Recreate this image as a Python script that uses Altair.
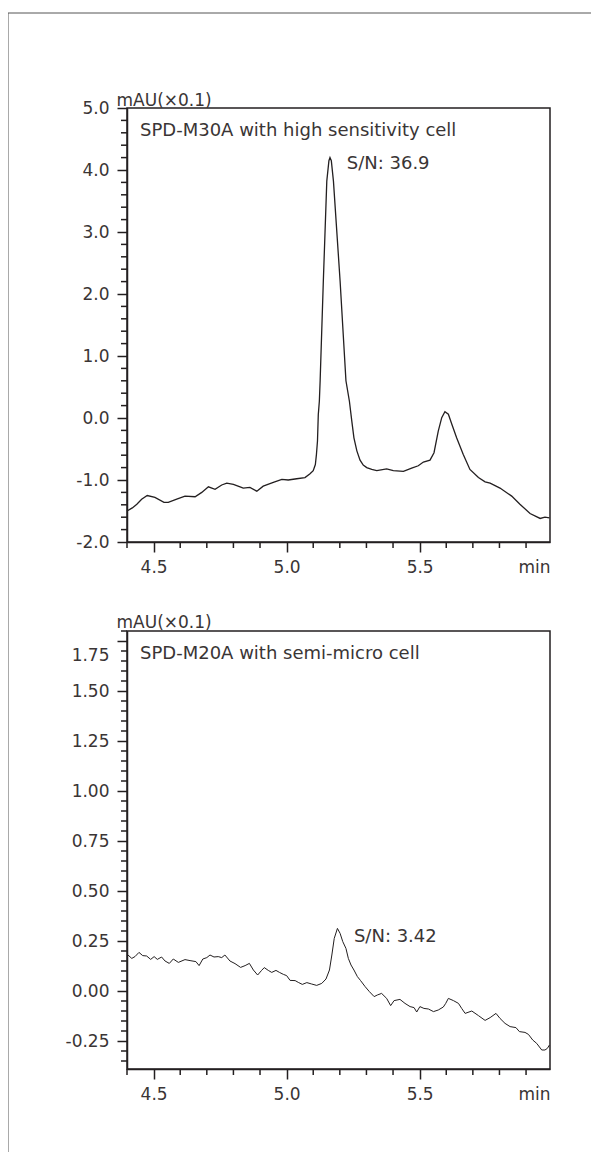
import altair as alt
import pandas as pd

# ---------------- data ----------------
top_t = [4.400, 4.420, 4.437, 4.455, 4.476, 4.505, 4.539, 4.555, 4.587, 4.618,
         4.656, 4.681, 4.706, 4.731, 4.756, 4.775, 4.800, 4.825, 4.837, 4.862,
         4.888, 4.912, 4.950, 4.982, 5.006, 5.038, 5.069, 5.088, 5.100, 5.108,
         5.112, 5.116, 5.119, 5.123, 5.126, 5.138, 5.151, 5.159, 5.163, 5.168,
         5.176, 5.201, 5.223, 5.236, 5.245, 5.253, 5.264, 5.276, 5.288, 5.301,
         5.320, 5.339, 5.376, 5.401, 5.439, 5.470, 5.495, 5.514, 5.539, 5.554,
         5.570, 5.583, 5.595, 5.608, 5.621, 5.639, 5.664, 5.689, 5.721, 5.746,
         5.765, 5.802, 5.846, 5.877, 5.915, 5.953, 5.971, 5.988]
top_v = [-1.50, -1.45, -1.39, -1.31, -1.25, -1.28, -1.36, -1.36, -1.31, -1.26,
         -1.27, -1.20, -1.11, -1.15, -1.08, -1.05, -1.07, -1.11, -1.13, -1.12,
         -1.18, -1.10, -1.04, -0.99, -1.00, -0.98, -0.96, -0.90, -0.85, -0.75,
         -0.59, -0.37, 0.05, 0.27, 0.60, 2.21, 3.82, 4.15, 4.20, 4.15,
         3.82, 2.21, 0.60, 0.27, -0.05, -0.32, -0.53, -0.68, -0.76, -0.80,
         -0.83, -0.85, -0.82, -0.85, -0.86, -0.81, -0.77, -0.71, -0.68, -0.56,
         -0.21, 0.005, 0.10, 0.06, -0.10, -0.32, -0.59, -0.83, -0.96, -1.03,
         -1.05, -1.13, -1.26, -1.39, -1.54, -1.62, -1.60, -1.61]

bot_t = [4.401, 4.418, 4.430, 4.445, 4.459, 4.474, 4.489, 4.502, 4.514, 4.530,
         4.543, 4.559, 4.574, 4.593, 4.618, 4.637, 4.659, 4.671, 4.685, 4.700,
         4.712, 4.727, 4.743, 4.756, 4.768, 4.787, 4.806, 4.827, 4.844, 4.860,
         4.875, 4.891, 4.906, 4.916, 4.931, 4.944, 4.960, 4.973, 4.988, 5.000,
         5.013, 5.032, 5.044, 5.059, 5.076, 5.094, 5.113, 5.132, 5.148, 5.161,
         5.170, 5.179, 5.191, 5.201, 5.211, 5.223, 5.232, 5.242, 5.253, 5.266,
         5.278, 5.295, 5.311, 5.329, 5.341, 5.357, 5.376, 5.391, 5.404, 5.426,
         5.445, 5.464, 5.479, 5.489, 5.501, 5.516, 5.533, 5.552, 5.570, 5.589,
         5.598, 5.608, 5.627, 5.646, 5.658, 5.671, 5.696, 5.721, 5.746, 5.765,
         5.787, 5.802, 5.821, 5.840, 5.862, 5.875, 5.896, 5.909, 5.925, 5.940,
         5.959, 5.971, 5.980, 5.988]
bot_v = [0.183, 0.163, 0.172, 0.193, 0.177, 0.175, 0.158, 0.172, 0.158, 0.170,
         0.150, 0.138, 0.160, 0.143, 0.157, 0.152, 0.147, 0.127, 0.160, 0.167,
         0.180, 0.170, 0.172, 0.167, 0.180, 0.150, 0.137, 0.118, 0.127, 0.138,
         0.105, 0.080, 0.103, 0.117, 0.103, 0.093, 0.103, 0.093, 0.083, 0.077,
         0.053, 0.052, 0.043, 0.033, 0.042, 0.035, 0.028, 0.038, 0.060, 0.105,
         0.180, 0.263, 0.313, 0.288, 0.247, 0.213, 0.163, 0.130, 0.105, 0.072,
         0.052, 0.022, -0.003, -0.028, -0.020, -0.012, -0.037, -0.073, -0.048, -0.042,
         -0.062, -0.078, -0.083, -0.105, -0.078, -0.087, -0.090, -0.103, -0.095, -0.080,
         -0.062, -0.037, -0.048, -0.062, -0.087, -0.112, -0.100, -0.123, -0.147, -0.133,
         -0.112, -0.137, -0.162, -0.178, -0.183, -0.203, -0.207, -0.217, -0.245, -0.262,
         -0.295, -0.295, -0.287, -0.270]

x_major = [4.5, 5.0, 5.5]
x_minor = [4.4, 4.6, 4.7, 4.8, 4.9, 5.1, 5.2, 5.3, 5.4, 5.6, 5.7, 5.8, 5.9]
x_domain = [4.4, 5.99]

top_y_major = [-2.0, -1.0, 0.0, 1.0, 2.0, 3.0, 4.0, 5.0]
top_y_minor = [-1.8, -1.6, -1.4, -1.2, -0.8, -0.6, -0.4, -0.2,
               0.2, 0.4, 0.6, 0.8, 1.2, 1.4, 1.6, 1.8,
               2.2, 2.4, 2.6, 2.8, 3.2, 3.4, 3.6, 3.8,
               4.2, 4.4, 4.6, 4.8]
top_y_domain = [-2.0, 5.0]

bot_y_major = [-0.25, 0.0, 0.25, 0.5, 0.75, 1.0, 1.25, 1.5, 1.75]
bot_y_minor = [-0.35, -0.30, -0.20, -0.15, -0.10, -0.05,
               0.05, 0.10, 0.15, 0.20, 0.30, 0.35, 0.40, 0.45,
               0.55, 0.60, 0.65, 0.70, 0.80, 0.85, 0.90, 0.95,
               1.05, 1.10, 1.15, 1.20, 1.30, 1.35, 1.40, 1.45,
               1.55, 1.60, 1.65, 1.70, 1.80]
bot_y_domain = [-0.39, 1.8]

top_note_t = [4.449, 5.226]
top_note_v = [4.548, 4.011]
top_note_txt = ["SPD-M30A with high sensitivity cell", "S/N: 36.9"]
bot_note_t = [4.449, 5.253]
bot_note_v = [1.66, 0.2465]
bot_note_txt = ["SPD-M20A with semi-micro cell", "S/N: 3.42"]

y_unit = "mAU(\u00d70.1)"
x_unit = "min"

# ---------------- style ----------------
LINE = "#231f20"
TEXT = "#3a3535"
FONT = "DejaVu Sans"
W = 423


def panel(t, v, ydom, ymaj, ymin, fmt, H, notes, line_w, title_y, label_offset=None):
    xs = alt.Scale(domain=x_domain, nice=False, zero=False)
    ys = alt.Scale(domain=ydom, nice=False, zero=False)
    yaxis_kw = dict(
        values=ymaj,
        labelExpr="(datum.value < -1e-9 ? '-' : '') + format(abs(datum.value), '%s')" % fmt,
        tickSize=10, labelPadding=8, labelOverlap=False, labelFlush=False,
        labelBaseline="middle",
        title=y_unit, titleAngle=0, titleX=-11, titleY=title_y,
        titleAlign="left", titleBaseline="alphabetic",
    )
    if label_offset is not None:
        yaxis_kw["labelOffset"] = label_offset
    xaxis = alt.Axis(
        values=x_major, format=".1f", tickSize=10, labelPadding=7.5,
        labelOverlap=False, labelFlush=False,
        title=x_unit, titleX=W, titleY=17.5, titleAlign="right",
        titleBaseline="top")
    yaxis = alt.Axis(**yaxis_kw)
    X = lambda: alt.X("t:Q", scale=xs, axis=xaxis)
    Y = lambda: alt.Y("v:Q", scale=ys, axis=yaxis)

    line = alt.Chart(pd.DataFrame({"t": t, "v": v})).mark_line(
        color=LINE, strokeWidth=line_w
    ).encode(x=X(), y=Y())
    ymin_l = alt.Chart(pd.DataFrame({"v": ymin})).mark_rule(
        color=LINE, strokeWidth=1.5
    ).encode(y=Y(), x=alt.value(-6), x2=alt.value(0))
    xmin_l = alt.Chart(pd.DataFrame({"t": x_minor})).mark_rule(
        color=LINE, strokeWidth=1.5
    ).encode(x=X(), y=alt.value(H), y2=alt.value(H + 6))
    nt, nv, ntxt = notes
    txt = alt.Chart(pd.DataFrame({"t": nt, "v": nv, "s": ntxt})).mark_text(
        font=FONT, fontSize=18, color=TEXT, align="left", baseline="alphabetic"
    ).encode(x=X(), y=Y(), text="s:N")
    return [line, ymin_l, xmin_l, txt]


top_layers = panel(top_t, top_v, top_y_domain, top_y_major, top_y_minor, ".1f", 434,
                   (top_note_t, top_note_v, top_note_txt), 1.3, -3)
bot_layers = panel(bot_t, bot_v, bot_y_domain, bot_y_major, bot_y_minor, ".2f", 438,
                   (bot_note_t, bot_note_v, bot_note_txt), 1.0, -4,
                   label_offset={"condition": {"test": "datum.value == 1.75", "value": 14},
                                 "value": 0})

# outer frame (decorative border of the figure)
one = pd.DataFrame({"k": [0]})
frame_top = alt.Chart(one).mark_rule(color="#555555", strokeWidth=1).encode(
    x=alt.value(-119), x2=alt.value(464), y=alt.value(-95))
frame_left = alt.Chart(one).mark_rule(color="#555555", strokeWidth=1).encode(
    x=alt.value(-119), y=alt.value(-95), y2=alt.value(1044))

top = alt.layer(*top_layers, frame_top, frame_left).properties(width=W, height=434)
bottom = alt.layer(*bot_layers).properties(width=W, height=438)

chart = alt.vconcat(top, bottom, spacing=89, bounds="flush").properties(
    padding={"left": -2, "top": 3, "right": 0, "bottom": 0},
    background="white",
).configure_view(
    stroke=LINE, strokeWidth=1.5
).configure_axis(
    grid=False,
    domainColor=LINE, domainWidth=1.5,
    tickColor=LINE, tickWidth=1.5,
    labelFont=FONT, labelFontSize=17, labelColor=TEXT,
    titleFont=FONT, titleFontSize=17, titleColor=TEXT, titleFontWeight="normal",
)

chart.save("out.html", embed_options={"renderer": "svg", "actions": False})
